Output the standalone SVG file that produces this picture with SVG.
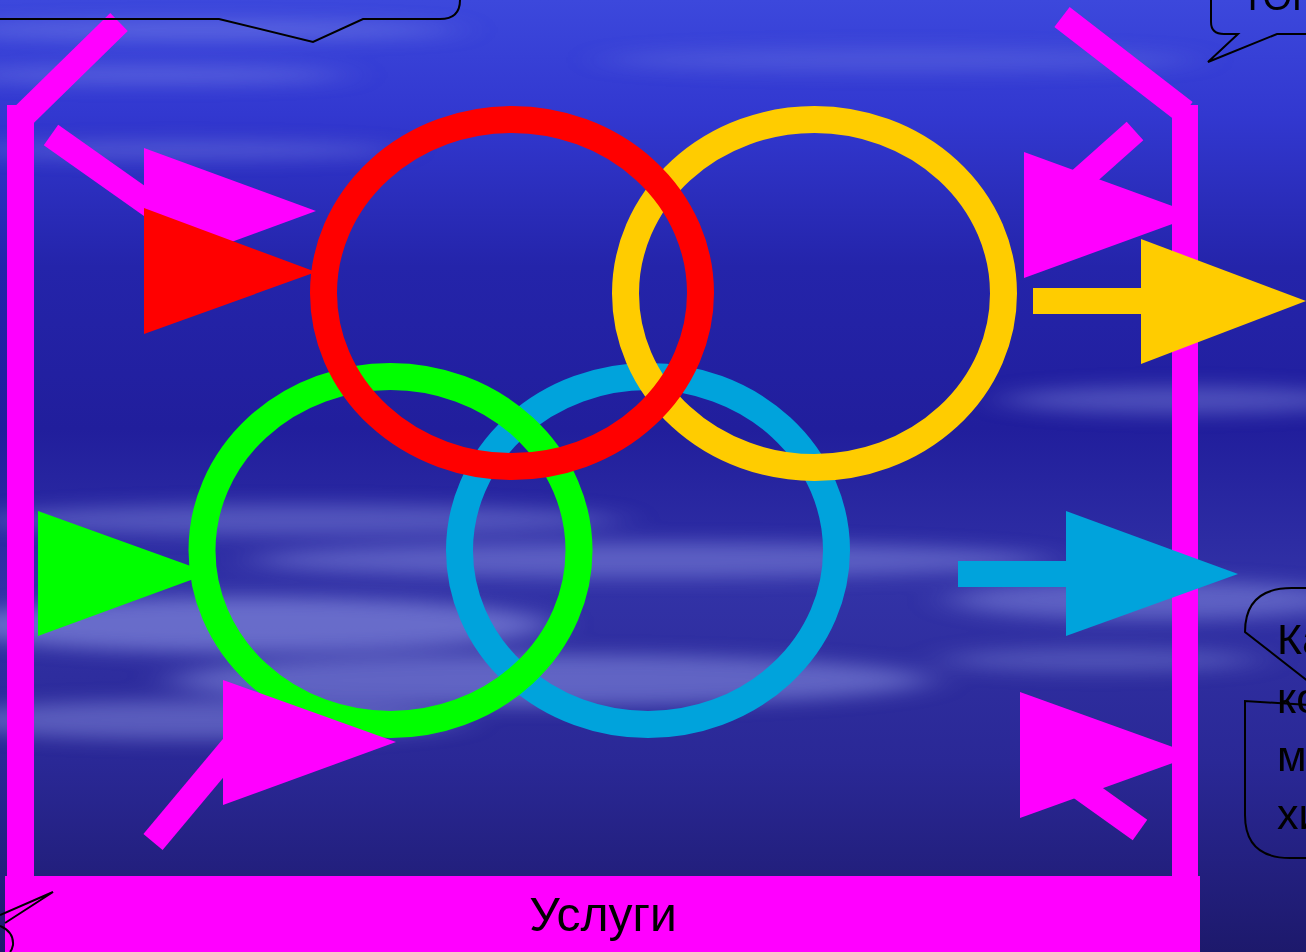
<svg xmlns="http://www.w3.org/2000/svg" width="1306" height="952" viewBox="0 0 1306 952">
<defs>
<linearGradient id="sky" x1="0" y1="0" x2="0" y2="1">
<stop offset="0" stop-color="#3c48dc"/>
<stop offset="0.12" stop-color="#3238d0"/>
<stop offset="0.28" stop-color="#2424aa"/>
<stop offset="0.45" stop-color="#211e9c"/>
<stop offset="0.62" stop-color="#3232a6"/>
<stop offset="0.8" stop-color="#2a2896"/>
<stop offset="1" stop-color="#1d196c"/>
</linearGradient>
<filter id="blur" x="-20%" y="-150%" width="140%" height="400%">
<feGaussianBlur stdDeviation="22 9"/>
</filter>
<style>
.callout{fill:none;stroke:#000;stroke-width:2;stroke-linejoin:miter}
.mag{fill:#ff00ff}
.shaft{stroke:#ff00ff;stroke-width:25;fill:none}
.ring{fill:none;stroke-width:27}
.lbl{font-family:"Liberation Sans",Arial,sans-serif;fill:#000}
</style>
</defs>
<rect x="0" y="0" width="1306" height="952" fill="url(#sky)"/>
<g filter="url(#blur)" fill="#a0a8f2">
<ellipse cx="200" cy="30" rx="260" ry="9" opacity="0.35"/>
<ellipse cx="150" cy="75" rx="200" ry="8" opacity="0.35"/>
<ellipse cx="180" cy="150" rx="220" ry="9" opacity="0.3"/>
<ellipse cx="900" cy="60" rx="300" ry="12" opacity="0.2"/>
<ellipse cx="300" cy="520" rx="320" ry="16" opacity="0.35"/>
<ellipse cx="650" cy="560" rx="400" ry="18" opacity="0.4"/>
<ellipse cx="250" cy="625" rx="300" ry="28" opacity="0.5"/>
<ellipse cx="550" cy="680" rx="380" ry="26" opacity="0.45"/>
<ellipse cx="200" cy="720" rx="260" ry="20" opacity="0.4"/>
<ellipse cx="1180" cy="400" rx="180" ry="14" opacity="0.35"/>
<ellipse cx="1150" cy="600" rx="200" ry="20" opacity="0.4"/>
<ellipse cx="1100" cy="660" rx="160" ry="12" opacity="0.3"/>
</g>
<g id="frame">
<line class="shaft" x1="119" y1="22" x2="24" y2="115"/>
<rect class="mag" x="7" y="105" width="27" height="775"/>
<line class="shaft" x1="1062" y1="17" x2="1185" y2="112"/>
<rect class="mag" x="1172" y="105" width="26" height="775"/>
</g>
<g id="connectors">
<line class="shaft" x1="51" y1="135" x2="160" y2="212"/>
<polygon class="mag" points="144,148 316,211 144,274"/>
<polygon fill="#ff0000" points="144,208 316,272 144,334"/>
<line class="shaft" x1="1135" y1="131" x2="1080" y2="180"/>
<polygon class="mag" points="1024,152 1197,215 1024,278"/>
<rect fill="#ffcc00" x="1033" y="288" width="110" height="26"/>
<polygon fill="#ffcc00" points="1141,239 1306,301 1141,364"/>
<rect fill="#00a3dc" x="958" y="561" width="110" height="26"/>
<polygon fill="#00a3dc" points="1066,511 1238,574 1066,636"/>
<line class="shaft" x1="1140" y1="830" x2="1070" y2="780"/>
<polygon class="mag" points="1020,692 1195,755 1020,818"/>
<polygon fill="#00ff00" points="38,511 210,573 38,636"/>
</g>
<g id="ring-cyan"><ellipse class="ring" stroke="#00a3dc" cx="648" cy="550.5" rx="188.5" ry="174"/></g>
<g id="ring-green"><ellipse class="ring" stroke="#00ff00" cx="390.5" cy="550.5" rx="188.5" ry="174"/></g>
<g id="ring-yellow"><ellipse class="ring" stroke="#ffcc00" cx="814.5" cy="293.5" rx="189" ry="174"/></g>
<g id="ring-red"><ellipse class="ring" stroke="#ff0000" cx="512" cy="293" rx="188.5" ry="173.5"/></g>
<g id="arrow-lower-left">
<line class="shaft" x1="153" y1="842" x2="240" y2="738"/>
<polygon class="mag" points="223,680 396,742 223,805"/>
</g>
<g id="services">
<rect class="mag" x="5" y="876" width="1195" height="76"/>
<text class="lbl" x="603" y="931" font-size="48" text-anchor="middle">Услуги</text>
</g>
<g id="callout-top-left">
<path class="callout" d="M0,19 H219 L313,42 L363,19 H440 Q460,19 460,0"/>
</g>
<g id="callout-top-right">
<path class="callout" d="M1211,0 V22 Q1211,34 1224,34 H1238 L1208,62 L1277,34 H1306"/>
<text class="lbl" x="1241" y="10" font-size="38">ТОГ</text>
</g>
<g id="callout-right">
<path class="callout" d="M1306,588 H1292 Q1245,588 1245,632 L1341,707 L1245,701 V815 Q1245,858 1290,858 H1306"/>
<text class="lbl" font-size="43"><tspan x="1277" y="654">Ка</tspan><tspan x="1277" y="713">ко</tspan><tspan x="1277" y="771">м</tspan><tspan x="1277" y="829">хи</tspan></text>
</g>
<g id="callout-bottom-left">
<path class="callout" d="M0,915 L53,892 L5,923"/>
<path class="callout" d="M0,926 Q14,932 13,945 Q12,950 10,952"/>
</g>
</svg>
